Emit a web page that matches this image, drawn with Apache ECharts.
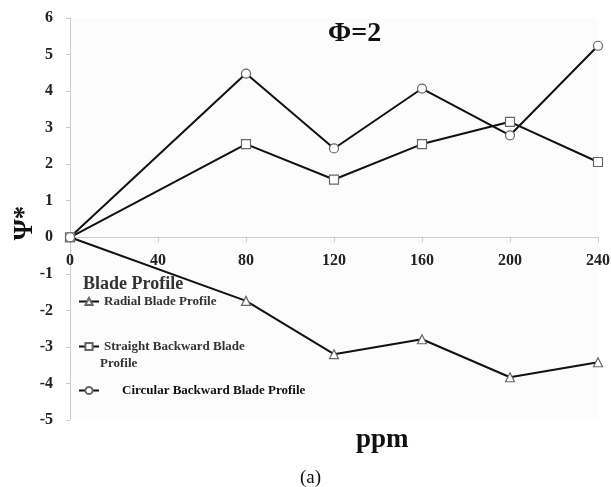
<!DOCTYPE html>
<html>
<head>
<meta charset="utf-8">
<script src="https://cdn.jsdelivr.net/npm/echarts@6/dist/echarts.min.js"></script>
<style>html,body{margin:0;padding:0;background:#fff;}#c{width:611px;height:487px;}</style>
</head>
<body>
<div id="c"></div>
<script>
var xTicks = [0, 40, 80, 120, 160, 200, 240];
var yTicks = [-5, -4, -3, -2, -1, 0, 1, 2, 3, 4, 5, 6];
var radialX = [0, 80, 120, 160, 200, 240];
var radial = [0, -1.74, -3.2, -2.79, -3.83, -3.42];
var straightX = [0, 80, 120, 160, 200, 240];
var straight = [0, 2.55, 1.58, 2.55, 3.16, 2.06];
var circularX = [0, 80, 120, 160, 200, 240];
var circular = [0, 4.48, 2.43, 4.07, 2.79, 5.24];
var names = ['Radial Blade Profile', 'Straight Backward Blade Profile', 'Circular Backward Blade Profile'];

function pairs(xs, ys) { return xs.map(function (x, i) { return [x, ys[i]]; }); }

var font = 'Liberation Serif';
var W = 611, H = 487;
var grid = {left: 70, right: 13, top: 18, bottom: 67};
var yMin = -5, yMax = 6;
var plotH = H - grid.top - grid.bottom;
var zeroOffset = -plotH * (0 - yMin) / (yMax - yMin);

var chart = echarts.init(document.getElementById('c'), null, {renderer: 'canvas'});
function mk(name, sym, data) {
  return {
    name: name, type: 'line', data: data, symbol: sym, symbolSize: 9,
    showAllSymbol: true,
    lineStyle: {color: '#111', width: 2},
    itemStyle: {color: '#fff', borderColor: '#666', borderWidth: 1.2},
    emphasis: {disabled: true}, z: 3
  };
}
var legTxt = {fontFamily: font, fontWeight: 'bold', fontSize: 13, color: '#333'};
chart.setOption({
  animation: false,
  backgroundColor: '#fff',
  grid: {left: grid.left, right: grid.right, top: grid.top, bottom: grid.bottom, containLabel: false, outerBoundsMode: 'none',
    show: true, backgroundColor: '#fcfcfc', borderWidth: 0},
  title: [
    {text: 'Φ=2', left: 323, top: 15, textStyle: {fontFamily: font, fontWeight: 'bold', fontSize: 28, color: '#111'}},
    {text: 'ppm', left: 351, top: 422, textStyle: {fontFamily: font, fontWeight: 'bold', fontSize: 27, color: '#111'}},
    {text: '(a)', left: 295, top: 464, textStyle: {fontFamily: font, fontWeight: 'normal', fontSize: 19, color: '#111'}},
    {text: 'Blade Profile', left: 83, top: 275, padding: 0, textStyle: {fontFamily: font, fontWeight: 'bold', fontSize: 18, color: '#333'}},
    {text: 'Profile', left: 100, top: 357, padding: 0, textStyle: legTxt}
  ],
  graphic: [
    {type: 'text', x: 25, y: 223, rotation: Math.PI / 2,
      style: {text: 'Ψ*', fontFamily: font, fontWeight: 'bold', fontSize: 27, fill: '#111', align: 'center', verticalAlign: 'middle'}}
  ],
  legend: [
    {data: [names[0]], left: 78, top: 295, padding: 0, itemWidth: 20, itemHeight: 9, itemGap: 2, textStyle: legTxt, selectedMode: false},
    {data: [names[1]], left: 78, top: 340, padding: 0, itemWidth: 20, itemHeight: 9, itemGap: 2, selectedMode: false,
      formatter: function () { return 'Straight Backward Blade'; }, textStyle: legTxt},
    {data: [names[2]], left: 78, top: 384, padding: 0, itemWidth: 20, itemHeight: 9, itemGap: 2, selectedMode: false,
      textStyle: Object.assign({}, legTxt, {color: '#111', padding: [0, 0, 0, 18]})}
  ],
  xAxis: {
    type: 'value', min: 0, max: 240, interval: 40,
    offset: zeroOffset,
    axisLine: {onZero: false, lineStyle: {color: '#ccc', width: 1}},
    axisTick: {show: true, length: 5, lineStyle: {color: '#ccc'}},
    axisLabel: {fontFamily: font, fontWeight: 'bold', fontSize: 16, color: '#222', margin: 16,
      formatter: function (v) { return xTicks.indexOf(v) >= 0 ? String(v) : ''; }},
    splitLine: {show: false}
  },
  yAxis: {
    type: 'value', min: yMin, max: yMax, interval: 1,
    axisLine: {show: true, lineStyle: {color: '#ccc', width: 1}},
    axisTick: {show: true, length: 4, lineStyle: {color: '#ccc'}},
    axisLabel: {fontFamily: font, fontWeight: 'bold', fontSize: 16, color: '#222', margin: 17,
      formatter: function (v) { return yTicks.indexOf(v) >= 0 ? String(v) : ''; }},
    splitLine: {show: false}
  },
  series: [
    mk(names[0], 'triangle', pairs(radialX, radial)),
    mk(names[1], 'rect', pairs(straightX, straight)),
    mk(names[2], 'circle', pairs(circularX, circular))
  ]
});
</script>
</body>
</html>
